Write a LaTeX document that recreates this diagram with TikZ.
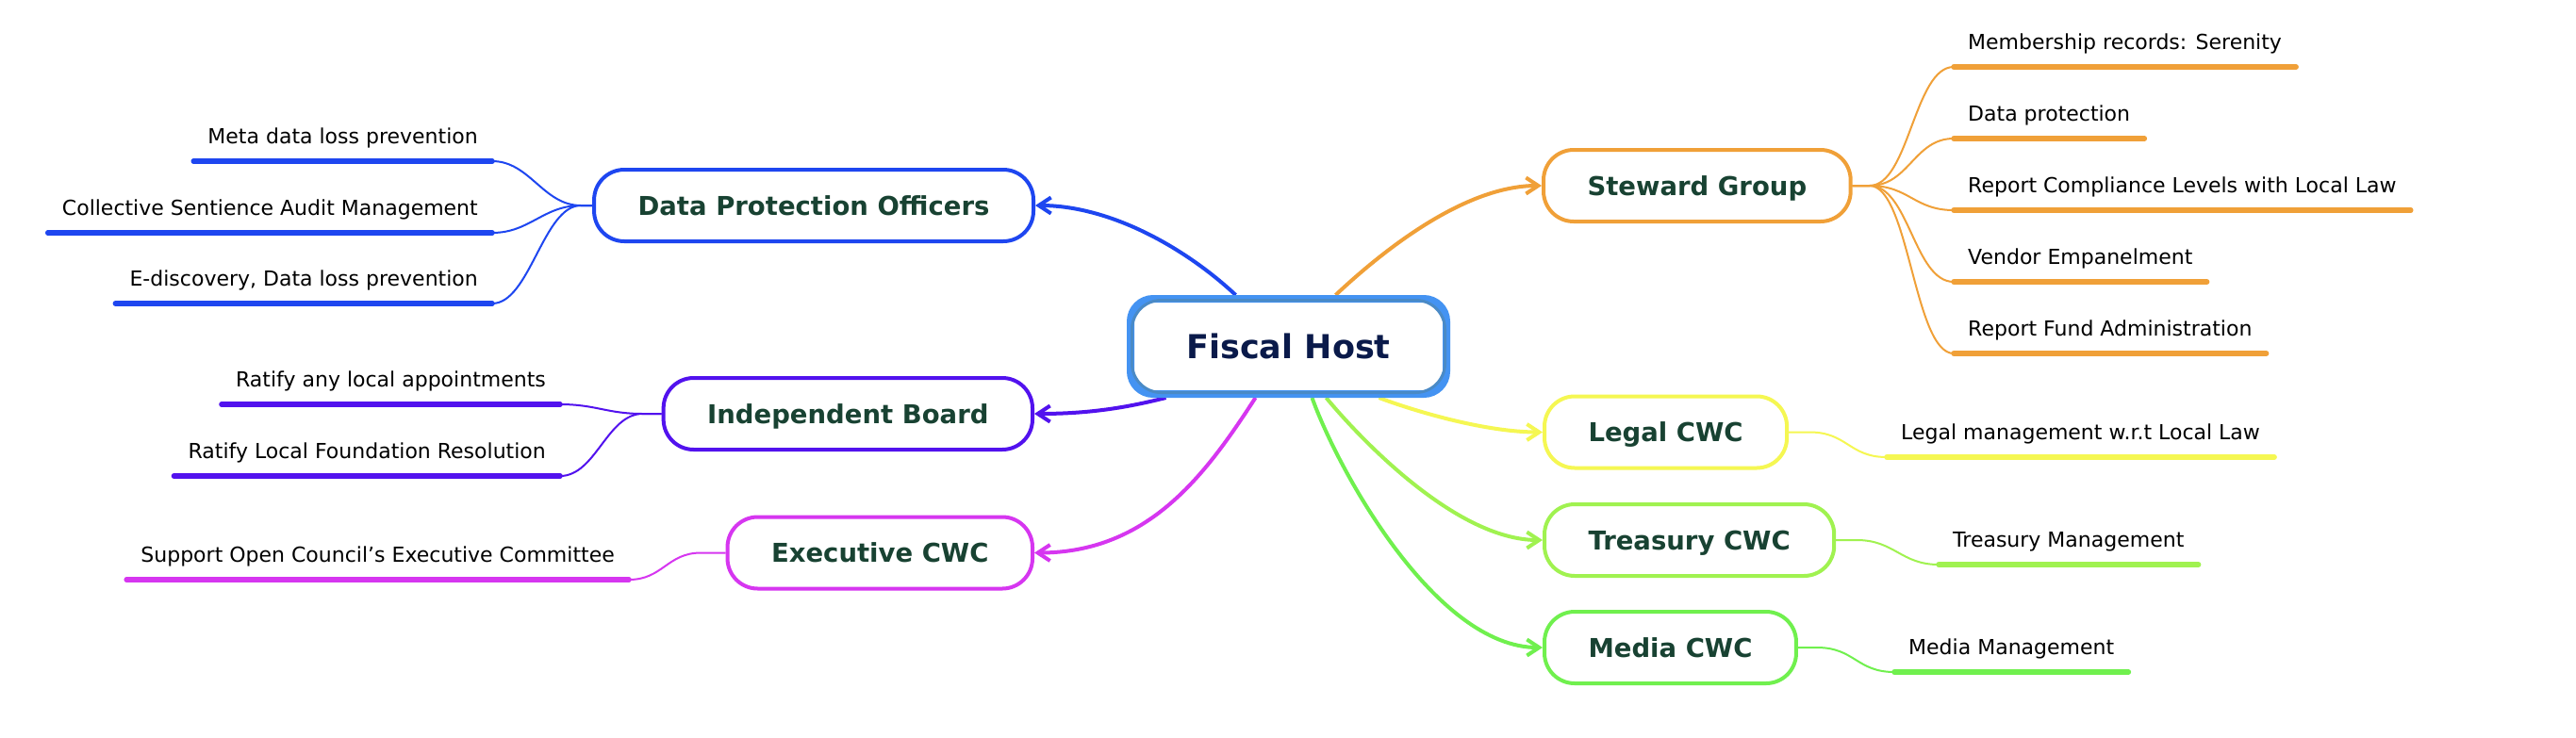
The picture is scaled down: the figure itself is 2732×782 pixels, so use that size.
\documentclass[tikz,border=0pt]{standalone}
\usepackage{fontspec}
\setmainfont{DejaVu Sans}
\usetikzlibrary{arrows.meta,backgrounds}
\definecolor{cblue}{RGB}{30,70,240}
\definecolor{cpurple}{RGB}{82,18,238}
\definecolor{cmag}{RGB}{214,54,240}
\definecolor{corange}{RGB}{240,160,56}
\definecolor{cyellow}{RGB}{245,247,82}
\definecolor{clgreen}{RGB}{160,242,80}
\definecolor{cgreen}{RGB}{112,240,78}
\definecolor{nodetext}{RGB}{24,66,50}
\definecolor{fhtext}{RGB}{10,26,74}
\definecolor{fhouter}{RGB}{68,147,242}
\definecolor{fhinner}{RGB}{74,138,198}
\begin{document}
\begin{tikzpicture}[x=1pt,y=-1pt,
  fiscal/.style={draw=fhouter, line width=8pt, rounded corners=24pt, fill=white,
    minimum width=335pt, minimum height=101pt, inner sep=0pt, text=fhtext,
    font=\bfseries\fontsize{35}{42}\selectfont, text height=25.5pt, text depth=0pt},
  branch/.style={draw, line width=4pt, rounded corners=32pt, fill=white,
    minimum height=76pt, inner xsep=46.5pt, inner ysep=0pt, text=nodetext,
    font=\bfseries\fontsize{27.5}{33}\selectfont, text height=20pt, text depth=0pt},
  leaf/.style={inner xsep=15pt, inner ysep=2pt, font=\fontsize{22}{26}\selectfont, text=black},
  bar/.style={line width=5.5pt, line cap=round},
  thinlink/.style={line width=2pt},
  mainlink/.style={line width=4pt, -{Straight Barb[length=13pt,width=17pt]}},
]
\useasboundingbox (0,0) rectangle (2732,782);

% central node
\node[fiscal] (fh) at (1366.5,367.5) {Fiscal Host};
\draw[fhinner, line width=3pt, rounded corners=31pt]
  ([xshift=5.5pt,yshift=-5.5pt]fh.north west) rectangle ([xshift=-5.5pt,yshift=5.5pt]fh.south east);

% branch nodes
\node[branch, draw=cblue, anchor=east] (dpo) at (1098,218) {Data Protection Officers};
\node[branch, draw=cpurple, anchor=east] (ib) at (1097,439) {Independent Board};
\node[branch, draw=cmag, anchor=east] (ec) at (1097,586.5) {Executive CWC};
\node[branch, draw=corange, anchor=west] (sg) at (1635,197) {Steward Group};
\node[branch, draw=cyellow, anchor=west] (lc) at (1636,458.5) {Legal CWC};
\node[branch, draw=clgreen, anchor=west] (tc) at (1636,573) {Treasury CWC};
\node[branch, draw=cgreen, anchor=west] (mc) at (1636,687) {Media CWC};

% leaves, left
\node[leaf, anchor=base east] (d1) at (522,152.5) {Meta data loss prevention};
\node[leaf, anchor=base east] (d2) at (522,228.5) {Collective Sentience Audit Management};
\node[leaf, anchor=base east] (d3) at (522,303.5) {E-discovery, Data loss prevention};
\node[leaf, anchor=base east] (i1) at (594,410.5) {Ratify any local appointments};
\node[leaf, anchor=base east] (i2) at (594,486.5) {Ratify Local Foundation Resolution};
\node[leaf, anchor=base east] (e1) at (667,596.5) {Support Open Council’s Executive Committee};
% leaves, right
\node[leaf, anchor=base west] (s1) at (2072,52.5) {Membership records: Serenity};
\node[leaf, anchor=base west] (s2) at (2072,128.5) {Data protection};
\node[leaf, anchor=base west] (s3) at (2072,204.5) {Report Compliance Levels with Local Law};
\node[leaf, anchor=base west] (s4) at (2072,280.5) {Vendor Empanelment};
\node[leaf, anchor=base west] (s5) at (2072,356.5) {Report Fund Administration};
\node[leaf, anchor=base west] (l1) at (2001,466.5) {Legal management w.r.t Local Law};
\node[leaf, anchor=base west] (t1) at (2056,580.5) {Treasury Management};
\node[leaf, anchor=base west] (m1) at (2009,694.5) {Media Management};

% bars
\foreach \n/\c in {d1/cblue,d2/cblue,d3/cblue,i1/cpurple,i2/cpurple,e1/cmag,
  s1/corange,s2/corange,s3/corange,s4/corange,s5/corange,l1/cyellow,t1/clgreen,m1/cgreen}
  \draw[bar, \c] ([yshift=-18.5pt]\n.base west) -- ([yshift=-18.5pt]\n.base east);

\begin{scope}[on background layer]
\fill[white] (0,0) rectangle (2732,782);
% main connectors
\draw[mainlink, cblue] ([xshift=-56pt]fh.north) .. controls +(-50,-47) and +(82,0) .. (dpo.east);
\draw[mainlink, corange] ([xshift=50pt]fh.north) .. controls +(50,-47) and +(-82,0) .. (sg.west);
\draw[mainlink, cpurple] ([xshift=-130pt]fh.south) .. controls +(-40,10) and +(60,0) .. (ib.east);
\draw[mainlink, cmag] ([xshift=-35pt]fh.south) .. controls +(-52,80) and +(122,0) .. (ec.east);
\draw[mainlink, cyellow] ([xshift=96pt]fh.south) .. controls +(40,15) and +(-60,0) .. (lc.west);
\draw[mainlink, clgreen] ([xshift=40pt]fh.south) .. controls +(33,40) and +(-93,0) .. (tc.west);
\draw[mainlink, cgreen] ([xshift=25pt]fh.south) .. controls +(28,78) and +(-113,0) .. (mc.west);
% leaf connectors, left
\foreach \n in {d1,d2,d3}
  \draw[thinlink, cblue] (dpo.west) -- ++(-12,0) .. controls +(-40,0) and +(40,0) .. ([yshift=-18.5pt]\n.base east);
\foreach \n in {i1,i2}
  \draw[thinlink, cpurple] (ib.west) -- ++(-20,0) .. controls +(-38,0) and +(38,0) .. ([yshift=-18.5pt]\n.base east);
\draw[thinlink, cmag] (ec.west) -- ++(-26,0) .. controls +(-36,0) and +(36,0) .. ([yshift=-18.5pt]e1.base east);
% leaf connectors, right
\foreach \n in {s1,s2,s3,s4,s5}
  \draw[thinlink, corange] (sg.east) -- ++(18,0) .. controls +(42,0) and +(-42,0) .. ([yshift=-18.5pt]\n.base west);
\draw[thinlink, cyellow] (lc.east) -- ++(22,0) .. controls +(40,0) and +(-40,0) .. ([yshift=-18.5pt]l1.base west);
\draw[thinlink, clgreen] (tc.east) -- ++(22,0) .. controls +(40,0) and +(-40,0) .. ([yshift=-18.5pt]t1.base west);
\draw[thinlink, cgreen] (mc.east) -- ++(20,0) .. controls +(40,0) and +(-40,0) .. ([yshift=-18.5pt]m1.base west);
\end{scope}
\end{tikzpicture}
\end{document}
